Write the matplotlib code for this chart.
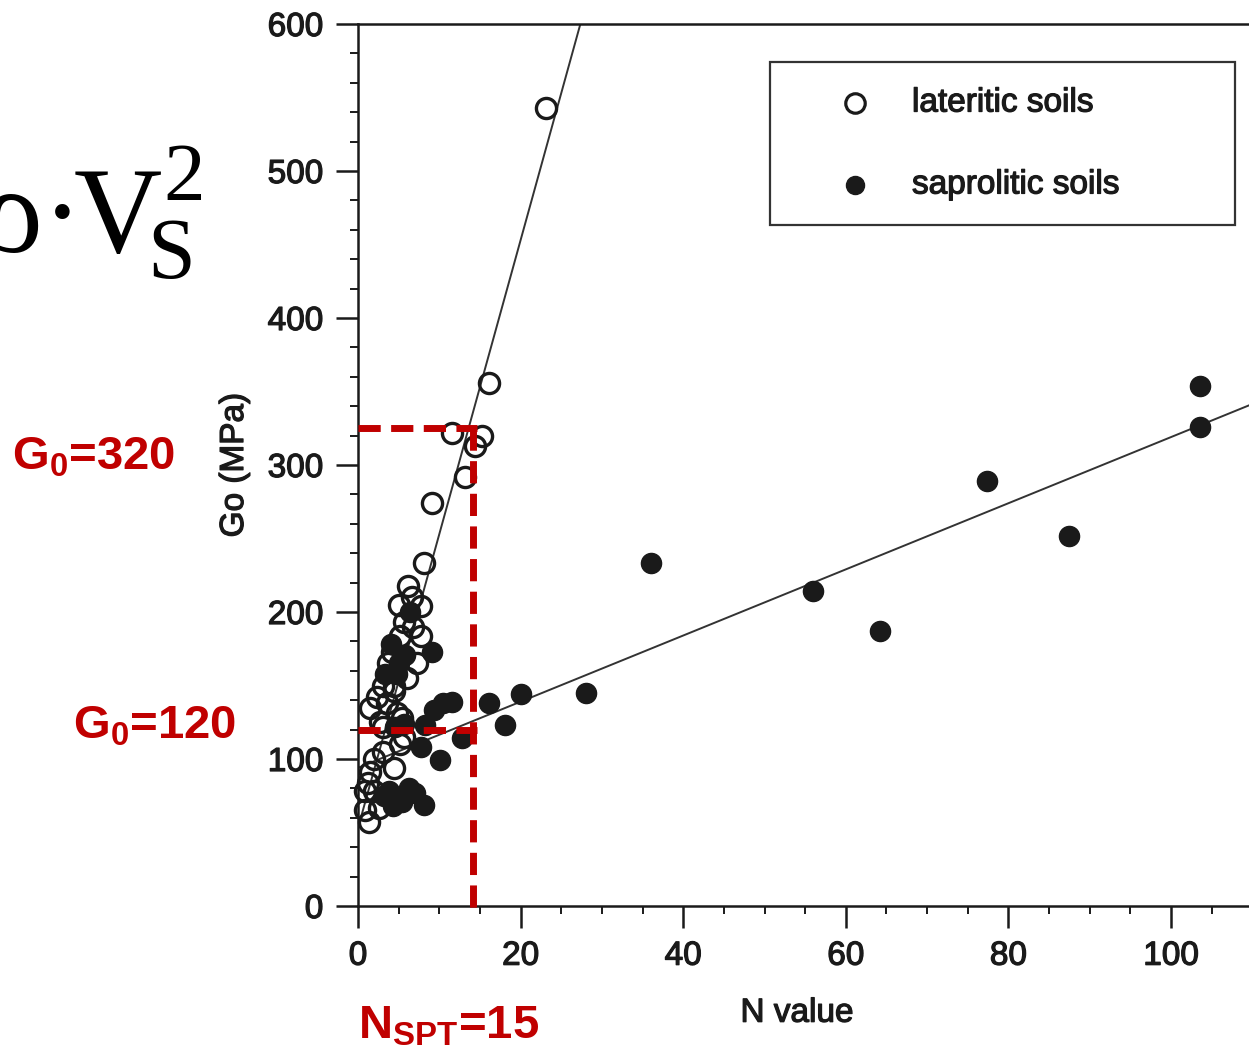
import numpy as np
import matplotlib
matplotlib.use("Agg")
import matplotlib.pyplot as plt
import matplotlib.patheffects as pe
from matplotlib.patches import Rectangle
from matplotlib.ticker import MultipleLocator

plt.rcParams['font.family'] = ['Liberation Sans', 'DejaVu Sans']
plt.rcParams['mathtext.fontset'] = 'custom'
plt.rcParams['mathtext.bf'] = 'Liberation Sans:bold'
plt.rcParams['mathtext.rm'] = 'Liberation Sans'

# ---- data ----
lat_N = [23.1, 16.1, 15.3, 11.6, 14.4, 13.2, 9.1, 8.1, 6.1, 5.0,
         7.7, 5.2, 7.7, 4.2, 3.7, 7.3, 6.0, 3.1, 2.3, 1.5,
         3.6, 4.8, 3.1, 5.6, 5.2, 3.1, 4.4, 1.5, 0.9, 2.0,
         0.9, 2.6, 1.4, 2.7, 5.4, 6.8, 4.4, 6.6, 5.6, 4.4,
         2.0, 1.2]
lat_G = [543, 356, 320, 322, 313, 292, 274, 233, 218, 205,
         204, 184, 184, 173, 165, 165, 155, 150, 142, 135,
         138, 131, 122, 115, 110, 105, 94, 91, 78, 78,
         65, 67, 57, 125, 128, 190, 150, 210, 193, 146,
         100, 84]

sap_N = [103.6, 103.6, 87.4, 77.4, 64.2, 56.0, 36.0, 28.0, 20.0, 16.1,
         18.1, 12.8, 11.6, 10.4, 9.4, 8.3, 9.1, 7.7, 10.1, 6.3,
         3.8, 5.4, 8.1, 6.4, 5.8, 4.8, 4.0, 5.0, 3.3, 4.6,
         5.6, 3.2, 4.3, 7.0]
sap_G = [354, 326, 252, 289, 187, 214, 233, 145, 144, 138,
         123, 114, 139, 138, 133, 123, 173, 108, 99, 80,
         78, 71, 69, 200, 171, 158, 178, 165, 158, 122,
         124, 75, 68, 77]

# trend lines: G = a + b*N
lat_fit = (53.0, 20.0)
sap_fit = (94.0, 2.25)

x_ticks = [0, 20, 40, 60, 80, 100]
y_ticks = [0, 100, 200, 300, 400, 500, 600]
legend_labels = ["lateritic soils", "saprolitic soils"]

# red annotation values
g_high, g_low, n_spt = 325, 120, 14.2

W, H = 1249, 1051
fig = plt.figure(figsize=(W / 100, H / 100), dpi=100)
ax = fig.add_axes([358 / W, 145 / H, 935 / W, 882 / H])
ax.set_xlim(0, 115)
ax.set_ylim(0, 600)

ink = '#1a1a1a'
bold_fx = [pe.withStroke(linewidth=0.9, foreground=ink)]

# trend lines
xl = np.array([0, (600 - lat_fit[0]) / lat_fit[1]])
ax.plot(xl, lat_fit[0] + lat_fit[1] * xl, color='#333333', lw=1.4, zorder=2)
xs = np.array([0, 115])
ax.plot(xs, sap_fit[0] + sap_fit[1] * xs, color='#333333', lw=1.4, zorder=2)

# points
ax.plot(sap_N, sap_G, 'o', ms=14.5, mfc=ink, mec=ink, mew=1, ls='none',
        zorder=3, clip_on=False)
ax.plot(lat_N, lat_G, 'o', ms=14.5, mfc='none', mec=ink, mew=2.4, ls='none',
        zorder=4, clip_on=False)

# spines / ticks
ax.spines['right'].set_visible(False)
for s in ['left', 'bottom', 'top']:
    ax.spines[s].set_linewidth(1.8)
    ax.spines[s].set_color(ink)
ax.set_xticks(x_ticks)
ax.set_yticks(y_ticks)
ax.xaxis.set_minor_locator(MultipleLocator(5))
ax.yaxis.set_minor_locator(MultipleLocator(20))
ax.tick_params(which='major', direction='out', length=16, width=1.8,
               color=ink, labelsize=24, pad=9, labelcolor=ink)
ax.tick_params(which='minor', direction='out', length=6, width=1.4, color=ink)
ax.tick_params(top=False, right=False, which='both')
for lab in ax.get_xticklabels() + ax.get_yticklabels():
    lab.set_path_effects(bold_fx)

ax.set_xlabel("N value", fontsize=24, color=ink, path_effects=bold_fx)
ax.set_ylabel("Go (MPa)", fontsize=24, color=ink, path_effects=bold_fx)
ax.xaxis.set_label_coords(0.4695, -0.104)
ax.yaxis.set_label_coords(-0.1155, 0.5)

# legend box (manual, in axes fraction)
ax.add_patch(Rectangle((0.4406, 0.7721), 0.9380 - 0.4406, 0.9569 - 0.7721,
                       transform=ax.transAxes, fill=False, ec='#333333',
                       lw=1.6, zorder=5))
ax.plot([0.5316], [0.9104], 'o', ms=14, mfc='none', mec=ink, mew=2.3,
        transform=ax.transAxes, zorder=6)
ax.plot([0.5316], [0.8175], 'o', ms=13, mfc=ink, mec=ink,
        transform=ax.transAxes, zorder=6)
ax.text(0.5925, 0.9104, legend_labels[0], transform=ax.transAxes,
        fontsize=24, va='center', ha='left', color=ink, path_effects=bold_fx)
ax.text(0.5925, 0.8175, legend_labels[1], transform=ax.transAxes,
        fontsize=24, va='center', ha='left', color=ink, path_effects=bold_fx)

# red dashed guides
red = '#C00000'
dash = dict(color=red, lw=5, dashes=(3.2, 1.5), zorder=7, clip_on=False,
            solid_capstyle='butt', dash_capstyle='butt')
ax.plot([0, n_spt + 0.4], [g_high, g_high], **dash)
ax.plot([0, n_spt + 0.4], [g_low, g_low], **dash)
ax.plot([n_spt, n_spt], [g_high, -4], **dash)

# red labels (figure pixel coords)
def fx(px):
    return px / W

def fy(py):
    return 1 - py / H

lab_kw = dict(fontsize=34, color=red, ha='left', va='baseline',
              fontweight='bold', family='Liberation Sans',
              math_fontfamily='custom')
fig.text(fx(12), fy(470), r'$\mathbf{G_0}$=320', **lab_kw)
fig.text(fx(73), fy(738), r'$\mathbf{G_0}$=120', **lab_kw)
fig.text(fx(358), fy(1038), r'$\mathbf{N_{SPT}}$=15', **lab_kw)

# formula fragment (clipped at the left edge): rho . V_S^2
serif = 'Liberation Serif'
fig.text(fx(42), fy(252), '\u03c1', fontsize=88, family=serif,
         ha='right', va='baseline', color='black')
fig.text(fx(62), fy(252), '\u00b7', fontsize=88, family=serif,
         ha='center', va='baseline', color='black')
fig.text(fx(74), fy(252), 'V', fontsize=88, family=serif,
         ha='left', va='baseline', color='black')
fig.text(fx(147), fy(278), 'S', fontsize=62, family=serif,
         ha='left', va='baseline', color='black')
fig.text(fx(163), fy(200), '2', fontsize=60, family=serif,
         ha='left', va='baseline', color='black')

fig.savefig('out.png', dpi=100)
